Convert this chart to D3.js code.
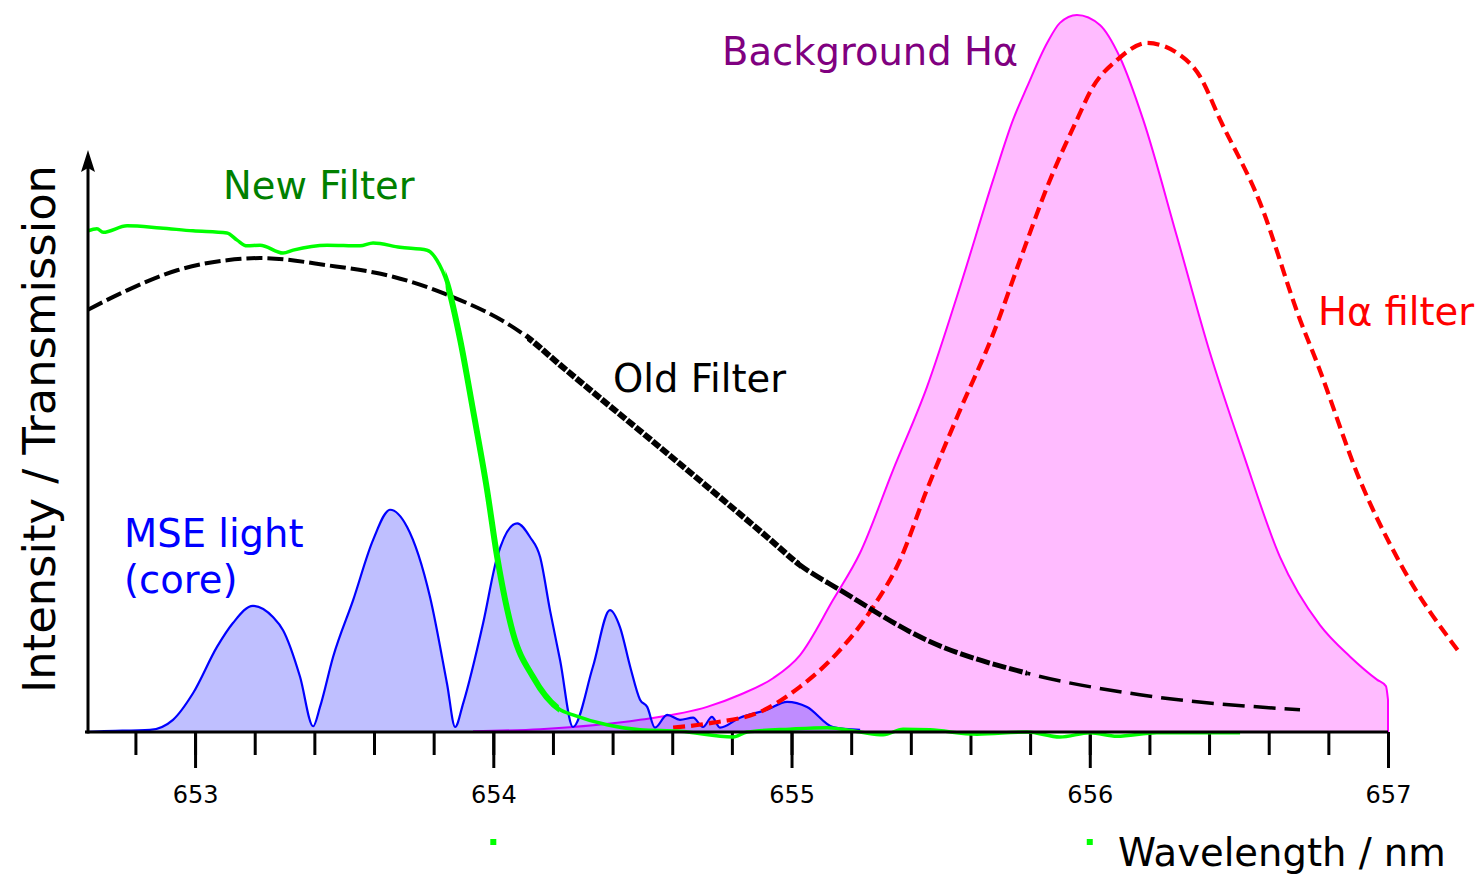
<!DOCTYPE html>
<html>
<head>
<meta charset="utf-8">
<script src="https://cdn.jsdelivr.net/npm/d3@7"></script>
<style>
  body { margin: 0; background: #fff; }
  svg text { font-family: "DejaVu Sans", sans-serif; }
</style>
</head>
<body>
<svg id="chart" width="1477" height="874"></svg>
<script>
"use strict";

// wavelength (nm), relative intensity / transmission

var bgHalpha = [
    [653.932, 0.001], [654.157, 0.004], [654.492, 0.017], [654.717, 0.035],
    [654.827, 0.052], [654.938, 0.075], [655.028, 0.107], [655.139, 0.184],
    [655.230, 0.250], [655.340, 0.365], [655.454, 0.481], [655.565, 0.621],
    [655.676, 0.770], [655.743, 0.854], [655.790, 0.900], [655.857, 0.961],
    [655.900, 0.989], [655.957, 1.000], [656.034, 0.986], [656.101, 0.941],
    [656.179, 0.854], [656.293, 0.690], [656.403, 0.529], [656.514, 0.389],
    [656.638, 0.244], [656.772, 0.149], [656.873, 0.105], [656.963, 0.073],
    [656.993, 0.064], [657.000, 0.045]
];

var halphaFilter = [
    [654.603, 0.006], [654.737, 0.013], [654.894, 0.028], [655.028, 0.063],
    [655.153, 0.110], [655.273, 0.174], [655.364, 0.240], [655.454, 0.338],
    [655.565, 0.449], [655.676, 0.555], [655.766, 0.658], [655.857, 0.760],
    [655.957, 0.854], [656.011, 0.900], [656.091, 0.937], [656.192, 0.961],
    [656.293, 0.947], [656.370, 0.914], [656.437, 0.854], [656.571, 0.738],
    [656.705, 0.575], [656.762, 0.515], [656.906, 0.351], [657.040, 0.236],
    [657.241, 0.110]
];

var oldFilter = [
    [652.641, 0.589], [652.772, 0.616], [652.940, 0.644], [653.107, 0.658],
    [653.218, 0.661], [653.443, 0.651], [653.664, 0.635], [653.832, 0.612],
    [654.113, 0.551], [654.224, 0.512], [654.559, 0.397], [654.918, 0.272],
    [655.028, 0.233], [655.163, 0.198], [655.454, 0.128], [655.790, 0.082],
    [656.168, 0.052], [656.705, 0.031]
];

var newFilter = [
    [652.641, 0.699], [652.671, 0.702], [652.692, 0.697], [652.772, 0.706],
    [652.883, 0.703], [652.993, 0.699], [653.107, 0.696], [653.141, 0.686],
    [653.174, 0.678], [653.218, 0.679], [653.295, 0.668], [653.329, 0.672],
    [653.443, 0.679], [653.553, 0.678], [653.597, 0.682], [653.687, 0.676],
    [653.778, 0.672], [653.811, 0.658], [653.845, 0.626], [653.889, 0.547],
    [653.932, 0.449], [653.979, 0.338], [654.013, 0.244], [654.066, 0.138],
    [654.133, 0.077], [654.224, 0.031], [654.267, 0.024], [654.381, 0.010],
    [654.492, 0.003], [654.626, 0.001], [654.804, -0.007], [654.851, 0.000],
    [654.995, 0.004], [655.119, 0.006], [655.230, 0.000], [655.307, -0.004],
    [655.374, 0.004], [655.464, 0.003], [655.622, -0.003], [655.790, 0.000],
    [655.900, -0.007], [656.001, -0.001], [656.091, -0.006], [656.225, -0.001],
    [656.336, -0.001], [656.504, -0.001]
];

var mseLight = [
    [652.631, 0.000], [652.681, 0.001], [652.849, 0.003], [652.926, 0.017],
    [652.993, 0.054], [653.074, 0.119], [653.127, 0.152], [653.194, 0.176],
    [653.262, 0.160], [653.295, 0.142], [653.352, 0.077], [653.396, 0.008],
    [653.419, 0.035], [653.463, 0.105], [653.530, 0.184], [653.597, 0.268],
    [653.654, 0.310], [653.711, 0.286], [653.788, 0.188], [653.845, 0.067],
    [653.872, 0.007], [653.899, 0.040], [653.966, 0.152], [654.013, 0.244],
    [654.080, 0.291], [654.123, 0.272], [654.157, 0.244], [654.190, 0.170],
    [654.224, 0.100], [654.267, 0.007], [654.334, 0.091], [654.391, 0.170],
    [654.425, 0.146], [654.459, 0.091], [654.492, 0.045], [654.516, 0.035],
    [654.542, 0.006], [654.583, 0.024], [654.626, 0.017], [654.670, 0.020],
    [654.703, 0.007], [654.733, 0.021], [654.760, 0.006], [654.827, 0.020],
    [654.918, 0.031], [654.985, 0.042], [655.052, 0.035], [655.139, 0.007],
    [655.230, 0.003]
];

var majorTicks = [653, 654, 655, 656, 657];
var minorTicks = d3.range(652.8, 657.01, 0.2);


var svg = d3.select("#chart");
var defs = svg.append("defs");

var x = d3.scaleLinear().domain([652.641, 657]).range([88, 1388]);
var y = d3.scaleLinear().domain([0, 1]).range([732, 15]);

var line = d3.line()
    .x(function (d) { return x(d[0]); })
    .y(function (d) { return y(d[1]); })
    .curve(d3.curveMonotoneX);

var area = d3.area()
    .x(function (d) { return x(d[0]); })
    .y0(y(0))
    .y1(function (d) { return y(d[1]); })
    .curve(d3.curveMonotoneX);

// clip to a wavelength band, used to restyle parts of one smooth path
var clipCount = 0;
function band(a, b) {
    var id = "band" + (clipCount++);
    defs.append("clipPath").attr("id", id)
        .append("rect")
        .attr("x", x(a)).attr("width", x(b) - x(a))
        .attr("y", 0).attr("height", 874);
    return "url(#" + id + ")";
}

// background H-alpha (filled), drops straight to the axis at the right edge
svg.append("path")
    .datum(bgHalpha)
    .attr("d", area)
    .attr("fill", "#ffbbff");
var lastBg = bgHalpha[bgHalpha.length - 1];
svg.append("path")
    .datum(bgHalpha)
    .attr("d", function (d) {
        return line(d) + "L" + x(lastBg[0]) + "," + y(0);
    })
    .attr("fill", "none")
    .attr("stroke", "#ff00ff")
    .attr("stroke-width", 2);

// MSE light (translucent)
svg.append("path")
    .datum(mseLight)
    .attr("d", area)
    .attr("fill", "rgba(0,0,255,0.25)");
svg.append("path")
    .datum(mseLight)
    .attr("d", line)
    .attr("fill", "none")
    .attr("stroke", "#0000ff")
    .attr("stroke-width", 2.2);

// H-alpha filter
svg.append("path")
    .datum(halphaFilter)
    .attr("d", line)
    .attr("fill", "none")
    .attr("stroke", "#ff0000")
    .attr("stroke-width", 4.2)
    .attr("stroke-dasharray", "12,6");

// old filter: dash style changes along the curve
var oldStyles = [
    { from: 652.5, to: 654.113, dash: "16,5", w: 4 },
    { from: 654.113, to: 655.028, dash: "9,2", w: 6 },
    { from: 655.028, to: 655.790, dash: "14,3", w: 5 },
    { from: 655.790, to: 657, dash: "22,9", w: 3.5 }
];
oldStyles.forEach(function (s) {
    svg.append("path")
        .datum(oldFilter)
        .attr("d", line)
        .attr("clip-path", band(s.from, s.to))
        .attr("fill", "none")
        .attr("stroke", "#000")
        .attr("stroke-width", s.w)
        .attr("stroke-dasharray", s.dash);
});

// x axis: minor then major ticks
var gx = svg.append("g").attr("transform", "translate(0," + y(0) + ")");
gx.append("g")
    .call(d3.axisBottom(x).tickValues(minorTicks).tickSize(23).tickSizeOuter(0).tickFormat(""))
    .call(function (g) {
        g.selectAll("line").attr("stroke", "#000").attr("stroke-width", 3);
        g.select(".domain").remove();
    });
gx.append("g")
    .call(d3.axisBottom(x).tickValues(majorTicks).tickSize(36).tickSizeOuter(0)
        .tickPadding(18).tickFormat(d3.format("d")))
    .call(function (g) {
        g.selectAll("line").attr("stroke", "#000").attr("stroke-width", 3);
        g.select(".domain").remove();
        g.selectAll("text")
            .attr("font-family", "DejaVu Sans")
            .attr("font-size", 24)
            .attr("fill", "#000");
    });

// new filter drawn above the old one and the axis ticks
svg.append("path")
    .datum(newFilter)
    .attr("d", line)
    .attr("fill", "none")
    .attr("stroke", "#00ff00")
    .attr("stroke-width", 3.5);
svg.append("path")
    .datum(newFilter)
    .attr("d", line)
    .attr("clip-path", band(653.84, 654.22))
    .attr("fill", "none")
    .attr("stroke", "#00ff00")
    .attr("stroke-width", 6);

// axis lines
svg.append("line")
    .attr("x1", x.range()[0] - 3).attr("x2", x.range()[1])
    .attr("y1", y(0)).attr("y2", y(0))
    .attr("stroke", "#000").attr("stroke-width", 3);
svg.append("line")
    .attr("x1", x.range()[0]).attr("x2", x.range()[0])
    .attr("y1", y(0) + 1.5).attr("y2", 168)
    .attr("stroke", "#000").attr("stroke-width", 3);
svg.append("path")
    .attr("d", "M" + x.range()[0] + ",150 l-7,22 l7,-4 l7,4 z")
    .attr("fill", "#000");

// stray green dots under the axis
[654, 656].forEach(function (v) {
    svg.append("rect")
        .attr("x", x(v) - 3).attr("y", 839)
        .attr("width", 6).attr("height", 6)
        .attr("fill", "#00ff00");
});

// labels
var labels = [
    { text: "New Filter", x: 223, y: 199, color: "#008000" },
    { text: "Old Filter", x: 613, y: 392, color: "#000000" },
    { text: "MSE light", x: 124, y: 547, color: "#0000ff" },
    { text: "(core)", x: 124, y: 593, color: "#0000ff" },
    { text: "Background Hα", x: 722, y: 65, color: "#800080" },
    { text: "Hα filter", x: 1318, y: 325, color: "#ff0000" },
    { text: "Wavelength / nm", x: 1118, y: 866, color: "#000000" }
];
svg.selectAll("text.label")
    .data(labels)
    .enter().append("text")
    .attr("class", "label")
    .attr("x", function (d) { return d.x; })
    .attr("y", function (d) { return d.y; })
    .attr("fill", function (d) { return d.color; })
    .attr("font-size", 38.5)
    .text(function (d) { return d.text; });

svg.append("text")
    .attr("transform", "translate(55,693) rotate(-90)")
    .attr("font-size", 44.8)
    .attr("fill", "#000")
    .text("Intensity / Transmission");
</script>
</body>
</html>
